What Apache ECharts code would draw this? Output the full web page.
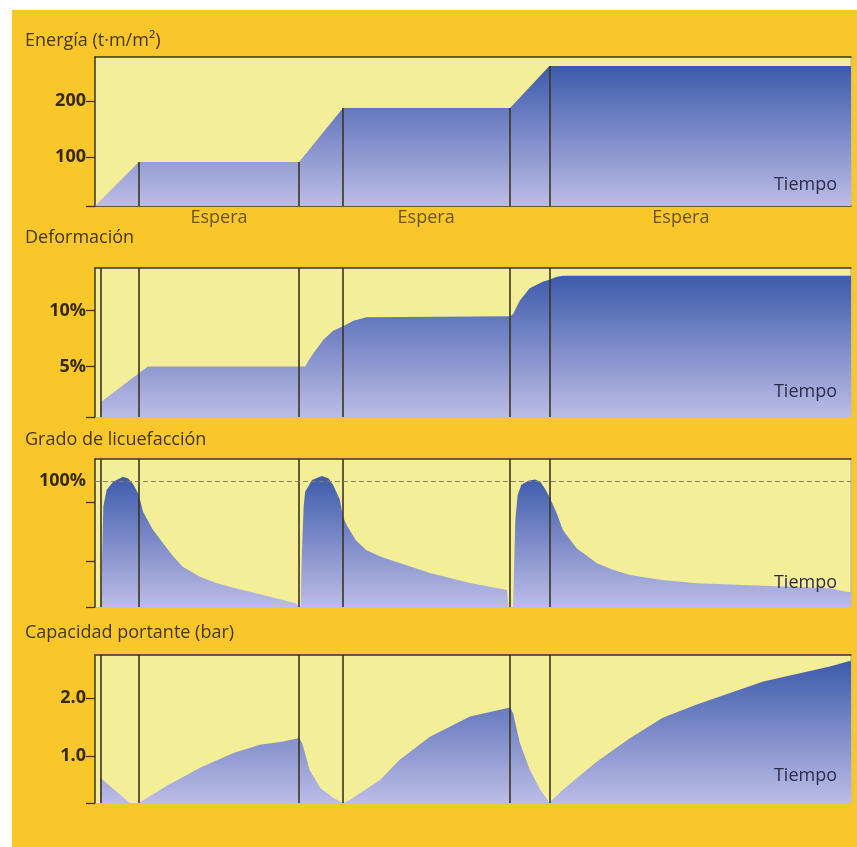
<!DOCTYPE html>
<html>
<head>
<meta charset="utf-8">
<script src="https://cdn.jsdelivr.net/npm/echarts@6/dist/echarts.min.js"></script>
<style>
  html, body { margin: 0; padding: 0; background: #ffffff; }
  #wrap { position: relative; width: 857px; height: 847px; background: #ffffff; }
  #bg { position: absolute; left: 12px; top: 10px; right: 0; bottom: 0; background: #F9C72A; }
  #chart { position: absolute; left: 0; top: 0; width: 857px; height: 847px; }
</style>
</head>
<body>
<div id="wrap"><div id="bg"></div><div id="chart"></div></div>
<script>
// ---------------- DATA ----------------
const panelTitles = ['Energía (t·m/m²)', 'Deformación', 'Grado de licuefacción', 'Capacidad portante (bar)'];
const xName = 'Tiempo';
const esperaLabels = ['Espera', 'Espera', 'Espera'];
const esperaT = [16.4, 43.8, 77.5];

// vertical event lines (time)
const eventos = [0.8, 5.8, 27.0, 32.8, 54.9, 60.1];

// Energía (t·m/m²)
const tEnergia = [0, 5.8, 27.0, 32.8, 54.9, 60.1, 100];
const energia  = [12.5, 91, 91, 187.5, 187.5, 262.5, 262.5];
const energiaTicks = [100, 200];

// Deformación (%)
const tDeform = [0.7, 5.8, 7.0, 27.8, 28.2, 28.9, 30.2, 31.5, 32.8, 34.2, 35.9, 54.9, 55.3, 56.2, 57.5, 59.3, 60.1, 61.0, 61.9, 100];
const deform  = [1.8, 4.4, 5.0, 5.0, 5.5, 6.2, 7.4, 8.2, 8.6, 9.1, 9.4, 9.5, 9.7, 10.9, 12.0, 12.6, 12.75, 13.0, 13.1, 13.1];
const deformTicks = [5, 10];

// Grado de licuefacción (%)
const tLicuef = [
  0.8, 0.9, 1.1, 1.55, 2.4, 3.7, 4.4, 5.1, 5.8, 6.35, 7.6, 9.0, 10.3, 11.6, 13.9, 16.0, 18.3, 22.8, 26.7, 26.9,
  27.2, 27.35, 27.6, 27.8, 28.7, 30.0, 30.9, 31.5, 32.4, 32.8, 33.3, 34.5, 35.9, 38.0, 40.3, 44.3, 49.6, 54.5, 54.7,
  55.3, 55.6, 55.9, 56.4, 57.3, 58.2, 58.9, 59.5, 60.1, 61.1, 61.9, 63.7, 66.4, 68.5, 70.8, 75.0, 79.6, 88.4, 97.2, 99.4, 100
];
const licuef = [
  0, 30, 80, 93, 99.5, 103.4, 102, 97, 89, 75.6, 62, 50.6, 40.5, 32, 24, 19, 15.3, 8.7, 2.6, 0,
  0, 40, 80, 91.5, 100.8, 104, 102, 96.8, 85, 71.7, 65, 53, 45, 39.5, 35, 27, 19, 13.5, 0,
  0, 69, 89, 97, 100.2, 101.3, 99.5, 94, 87.5, 74, 61, 46.6, 34.7, 29.5, 25.4, 21.5, 18.8, 16.9, 14.8, 12.2, 12
];
const licuefLabelTicks = [100];
const licuefMinorTicks = [0, 36, 83];
const licuefRef = 100;

// Capacidad portante (bar)
const tCap = [
  0.7, 4.6, 5.8, 9.5, 13.9, 18.3, 21.8, 24.9, 27.0, 27.4, 28.4, 29.8, 31.5, 32.8,
  33.7, 37.7, 40.3, 44.3, 49.6, 54.6, 54.9, 55.3, 56.2, 57.5, 58.9, 60.1,
  61.9, 66.4, 70.8, 75.1, 79.6, 88.4, 97.2, 99.7, 100
];
const cap = [
  0.62, 0.18, 0.18, 0.48, 0.79, 1.05, 1.19, 1.25, 1.31, 1.22, 0.75, 0.44, 0.27, 0.18,
  0.23, 0.58, 0.93, 1.33, 1.68, 1.83, 1.84, 1.74, 1.22, 0.76, 0.41, 0.19,
  0.41, 0.90, 1.31, 1.66, 1.89, 2.29, 2.55, 2.64, 2.64
];
const capTicks = [1.0, 2.0];

// ---------------- STYLE / LAYOUT ----------------
const C = {
  plotBg: '#F4EE98',
  dark: '#3b3420',
  title: '#45360f',
  tick: '#35290e',
  tiempo: '#2c2c48',
  blueTop: '#3D5BAB',
  blueBot: '#BCBCE6',
  rightBorder: '#c4bea0',
  dash: '#8a8560'
};
const FONT = '"Open Sans", "Noto Sans", sans-serif';
const grids = [
  { left: 95, right: 6, top: 57, height: 149 },
  { left: 95, right: 6, top: 268, height: 149 },
  { left: 95, right: 6, top: 459, height: 148 },
  { left: 95, right: 6, top: 655, height: 148 }
];
const yRanges = [[12.5, 278.6], [0.5, 13.8], [0, 117.5], [0.18, 2.75]];
const titleY = [41, 238, 440, 633];
const tiempoY = [185, 392, 583, 776];

const zip = (a, b) => a.map((v, i) => [v, b[i]]);
const grad = () => new echarts.graphic.LinearGradient(0, 0, 0, 1, [
  { offset: 0, color: C.blueTop }, { offset: 1, color: C.blueBot }
]);

const chart = echarts.init(document.getElementById('chart'), null, { renderer: 'canvas' });

const xAxes = [], yAxes = [];
grids.forEach((g, i) => {
  xAxes.push({
    type: 'value', gridIndex: i, min: 0, max: 100, position: 'bottom',
    axisLine: { show: i === 0, onZero: false, lineStyle: { color: C.dark, width: 1.5 } },
    axisTick: { show: false }, axisLabel: { show: false }, splitLine: { show: false }
  });
});
grids.forEach((g, i) => {
  xAxes.push({
    type: 'value', gridIndex: i, min: 0, max: 100, position: 'top',
    axisLine: { show: true, onZero: false, lineStyle: { color: C.dark, width: 1.5 } },
    axisTick: { show: false }, axisLabel: { show: false }, splitLine: { show: false }
  });
});

const labelFmt = [
  v => String(v),
  v => v + '%',
  v => v + '%',
  v => v.toFixed(1)
];
const labelVals = [energiaTicks, deformTicks, licuefLabelTicks, capTicks];
const tickVals = [
  [yRanges[0][0]].concat(energiaTicks),
  [yRanges[1][0]].concat(deformTicks),
  licuefMinorTicks,
  [yRanges[3][0]].concat(capTicks)
];
grids.forEach((g, i) => {
  yAxes.push({
    type: 'value', gridIndex: i, min: yRanges[i][0], max: yRanges[i][1], position: 'left',
    axisLine: { show: true, onZero: false, lineStyle: { color: C.dark, width: 1.5 } },
    axisTick: { show: true, length: 9, customValues: tickVals[i], lineStyle: { color: C.dark, width: 1.3 } },
    axisLabel: {
      show: true, customValues: labelVals[i], formatter: labelFmt[i], margin: 9,
      fontFamily: FONT, fontWeight: 'bold', fontSize: 18, color: C.tick
    },
    splitLine: { show: false }
  });
});
grids.forEach((g, i) => {
  yAxes.push({
    type: 'value', gridIndex: i, min: yRanges[i][0], max: yRanges[i][1], position: 'right',
    axisLine: { show: true, onZero: false, lineStyle: { color: C.rightBorder, width: 1.5 } },
    axisTick: { show: false }, axisLabel: { show: false }, splitLine: { show: false }
  });
});

const vLine = { color: C.dark, width: 1.6, type: 'solid' };

// panel 1: lines from bottom up to energy curve
const energiaAt = t => energia[tEnergia.indexOf(t)];
const p1Lines = eventos.slice(1).map(t => [
  { coord: [t, yRanges[0][0]] }, { coord: [t, energiaAt(t)] }
]);
const fullLines = eventos.map(t => ({ xAxis: t }));

const areaSeries = (i, data, extraLines) => ({
  type: 'line', xAxisIndex: i, yAxisIndex: i, data: data,
  symbol: 'none', smooth: false,
  lineStyle: { width: 0, opacity: 0 },
  areaStyle: { origin: 'start', opacity: 1, color: grad() },
  markLine: {
    silent: true, symbol: 'none', label: { show: false }, animation: false,
    lineStyle: vLine, data: extraLines
  },
  z: 3
});

const series = [
  areaSeries(0, zip(tEnergia, energia), p1Lines),
  areaSeries(1, zip(tDeform, deform), fullLines),
  areaSeries(2, zip(tLicuef, licuef), fullLines),
  areaSeries(3, zip(tCap, cap), fullLines),
  {
    // 100% reference line
    type: 'line', xAxisIndex: 2, yAxisIndex: 2, data: [], symbol: 'none',
    markLine: {
      silent: true, symbol: 'none', label: { show: false }, animation: false,
      lineStyle: { color: C.dash, width: 1.2, type: [5, 3] },
      data: [{ yAxis: licuefRef }]
    },
    z: 4
  },
  {
    // "Espera" labels under panel 1
    type: 'scatter', xAxisIndex: 0, yAxisIndex: 0, clip: false,
    data: esperaT.map((t, k) => ({ value: [t, yRanges[0][0]], name: esperaLabels[k] })),
    symbolSize: 0, itemStyle: { color: 'rgba(0,0,0,0)' }, silent: true, z: 10,
    label: {
      show: true, position: 'bottom', distance: 3, formatter: p => p.name,
      fontFamily: FONT, fontSize: 18, color: C.title
    }
  }
];

const graphics = [];
panelTitles.forEach((txt, i) => {
  graphics.push({
    type: 'text', x: 25, y: titleY[i], z: 50, silent: true,
    style: { text: txt, font: '18px ' + FONT, fill: C.title, verticalAlign: 'middle' }
  });
  graphics.push({
    type: 'text', x: 837, y: tiempoY[i], z: 50, silent: true,
    style: { text: xName, font: '18px ' + FONT, fill: C.tiempo, align: 'right', verticalAlign: 'middle' }
  });
});

chart.setOption({
  animation: false,
  backgroundColor: 'transparent',
  grid: grids.map(g => Object.assign({ show: true, backgroundColor: C.plotBg, borderWidth: 0 }, g)),
  xAxis: xAxes,
  yAxis: yAxes,
  series: series,
  graphic: graphics
});
</script>
</body>
</html>
